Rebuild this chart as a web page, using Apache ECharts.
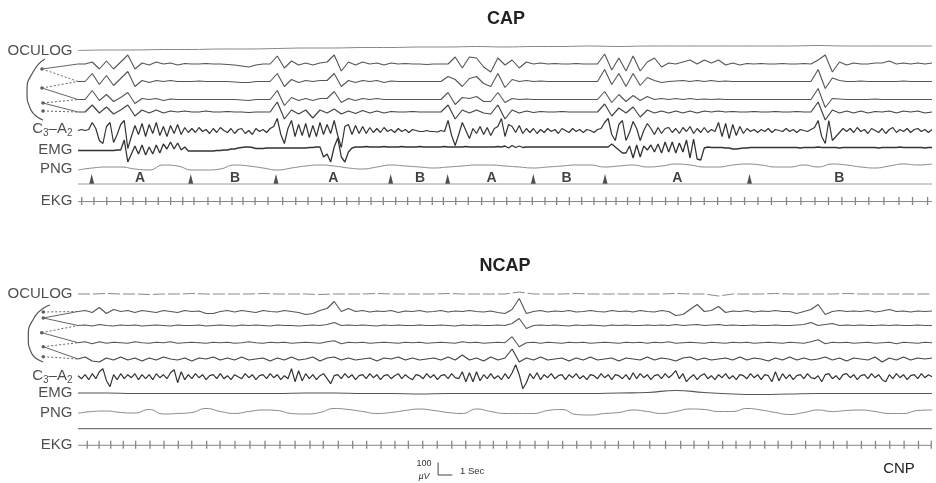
<!DOCTYPE html>
<html>
<head>
<meta charset="utf-8">
<title>CAP / NCAP</title>
<script src="https://cdn.jsdelivr.net/npm/echarts@6/dist/echarts.min.js"></script>
<style>
  html, body { margin: 0; padding: 0; background: #fff; }
  #chart { width: 936px; height: 483px; }
</style>
</head>
<body>
<div id="chart"></div>
<script>
// Time in seconds (60 s epoch), deflections in microvolts (positive = up)

// ---- CAP panel ----
const capOculog = [ // every 2 s
  -20,-16,-16,-12,-12,-8,-8,-4,0,0,4,4,8,8,12,8,12,12,16,12,16,16,16,16,16,16,20,16,16,16,16];
const capCh1 = [ // every 0.5 s
  0,0,16,-40,24,-40,16,72,-40,8,
  -8,16,0,8,-8,4,0,0,4,0,
  0,-4,-8,-16,-24,-8,0,0,64,-32,
  24,-8,8,-8,8,16,72,-56,16,-8,
  16,0,8,-8,8,0,4,0,0,-4,
  0,0,0,56,-32,56,48,-24,-64,48,
  -8,32,-32,16,0,8,0,4,0,0,
  4,0,0,0,80,-48,48,-56,64,-56,
  16,48,-24,8,0,16,32,0,32,8,
  32,-8,8,-8,4,0,4,0,0,4,
  0,0,4,0,32,72,-64,16,-8,8,
  0,0,8,8,24,0,8,0,8,0,
  8];
const capCh2 = [
  0,0,64,-24,48,-32,24,80,-40,8,
  -8,8,0,8,0,0,0,4,0,0,
  0,0,-4,-8,-8,0,0,0,64,-40,
  16,-8,8,0,8,8,64,-40,8,-8,
  8,0,8,-8,4,0,0,0,0,0,
  0,0,40,16,-40,24,40,-16,-40,64,
  -48,16,0,8,0,4,0,0,0,0,
  0,0,0,0,96,-24,64,-40,64,-32,
  32,8,-8,0,4,8,0,8,0,8,
  0,4,0,0,0,0,0,0,0,0,
  0,0,0,0,96,-56,28,8,0,0,
  4,0,0,0,0,0,4,0,0,0,
  0];
const capCh3 = [
  0,0,72,-8,40,-16,16,56,-32,8,
  0,8,-8,4,0,0,0,0,0,0,
  0,0,0,-4,-8,0,0,0,72,-48,
  16,-8,8,-8,8,8,64,-24,8,-8,
  8,0,8,0,0,0,0,0,0,0,
  0,0,56,-40,16,8,24,-16,-16,56,
  -24,8,0,4,0,0,0,0,0,0,
  0,0,0,0,64,-24,40,-16,32,-8,
  24,0,8,0,8,0,8,0,4,0,
  4,0,0,0,0,0,0,0,0,0,
  0,0,0,0,88,-64,8,4,0,0,
  0,0,4,0,0,0,0,0,0,0,
  0];
const capCh4 = [
  0,0,56,-8,40,-16,16,56,-32,16,
  -8,16,-8,8,0,8,0,0,8,0,
  0,4,0,0,-4,0,0,0,80,-56,
  16,-16,16,-48,16,-8,24,-16,8,-12,
  12,-8,8,-8,4,0,0,4,0,0,
  0,0,56,-56,16,-8,16,-8,-16,56,
  -56,16,-8,8,-4,4,0,0,4,0,
  0,0,0,0,64,-32,32,-8,40,-40,
  16,-8,8,-8,8,-8,8,-8,8,0,
  8,0,4,0,0,4,0,0,4,0,
  0,4,0,0,80,-64,16,-8,8,-8,
  8,-8,4,0,8,-8,8,0,8,-8,
  0];
const capC3A2 = [ // every 0.25 s
  0,8,0,8,64,16,-80,-104,32,64,-96,-32,48,80,-144,-48,40,-32,56,-48,
  48,-24,64,-40,32,-48,40,-24,48,-32,24,-16,16,-16,24,-8,8,-24,16,-16,
  24,0,-16,16,-24,8,16,-24,0,-32,16,-8,8,-16,16,32,96,-32,-104,16,
  80,-48,48,-40,56,-56,40,-48,64,-32,48,-24,80,-40,-136,32,48,-32,40,-24,
  32,-24,24,-16,16,-16,24,-8,8,-16,16,-8,8,-16,8,0,-8,-8,0,-8,
  -8,-12,0,-8,80,-40,-120,-32,64,0,-64,16,-24,32,-32,24,-40,16,32,96,
  -48,48,32,-16,40,-24,16,-16,16,-24,8,-16,16,-8,8,-24,16,0,-16,16,
  -8,8,-16,8,0,-16,8,16,64,96,-32,-80,48,80,-80,-16,72,16,-80,0,
  56,16,-32,24,-24,16,24,-16,16,-24,24,-8,32,-24,16,-16,24,-16,8,-8,
  64,-48,56,-64,48,-40,32,-24,16,-8,8,-16,8,-8,16,-16,8,0,-8,16,
  -8,8,-16,8,0,-8,8,24,80,-48,-104,80,-80,-48,-16,16,-8,16,-16,24,
  -8,8,-24,16,0,-16,16,-24,8,24,-16,8,-8,16,-16,8,16,-8,8,-16,
  8];
const capEmg = [ // every 0.25 s
  -20,-20,-20,-20,-20,-20,-20,-20,-20,-20,-20,-16,-16,64,-112,-48,16,-48,24,-56,
  8,-48,24,-40,32,-8,48,-8,40,-16,8,-24,-24,-24,-24,-24,-24,-24,-24,-20,
  -20,-16,-16,-8,-8,0,4,8,8,4,-4,-4,-4,0,0,0,0,0,0,0,
  0,0,0,0,0,4,4,8,8,-72,-48,-112,8,80,-72,-112,-32,0,8,8,
  8,12,8,8,8,8,12,8,8,8,8,12,8,8,8,8,12,8,8,8,
  8,8,8,12,8,8,8,8,8,12,8,8,8,8,8,8,8,8,12,8,
  16,0,20,4,16,4,8,8,8,8,8,8,8,8,8,8,8,8,8,8,
  8,8,8,8,8,8,8,8,8,8,32,8,-16,-40,-40,16,-80,24,-72,16,
  -16,24,-32,32,-40,48,-32,48,-40,40,-32,64,-80,72,-88,-96,0,8,4,4,
  4,4,0,0,-8,-8,-4,0,0,4,4,4,4,4,4,4,4,4,4,4,
  4,4,4,0,4,4,4,4,8,4,4,4,4,4,0,4,4,4,4,4,
  4,4,4,4,4,0,4,4,4,4,4,8,4,4,4,4,4,4,0,4,
  4];
const capPng = [ // every 1 s
  -24,-8,0,0,-16,-24,16,8,-24,-24,-16,16,8,-8,-24,-8,8,16,8,-8,
  -16,0,16,8,0,-8,0,8,16,16,8,0,-8,0,8,16,16,0,8,16,
  0,8,24,16,0,0,16,24,16,0,0,16,0,24,16,0,-8,8,24,16,
  24];
const capBeats = [
  0.26,1.12,2.02,3.00,3.86,4.76,5.64,6.51,7.36,8.15,9.13,9.98,10.82,11.59,12.44,13.35,
  14.38,15.30,16.16,17.12,18.01,18.88,19.74,20.59,21.45,22.32,23.16,24.03,24.89,25.67,
  26.54,27.42,28.36,29.23,30.12,31.05,31.92,32.81,33.63,34.52,35.39,36.25,37.10,37.80,
  38.61,39.46,40.34,41.28,42.16,43.05,44.00,44.94,45.88,46.83,47.77,48.72,49.78,50.79,
  51.78,52.73,53.67,54.62,55.56,56.62,57.68,58.63,59.69];
const capMarkerSec = [0.96, 7.92, 13.91, 21.97, 25.97, 31.99, 37.03, 47.18];
const capPhaseSec = [4.36, 11.03, 17.94, 24.03, 29.06, 34.33, 42.11, 53.48];
const capPhaseNames = ['A', 'B', 'A', 'B', 'A', 'B', 'A', 'B'];

// ---- NCAP panel ----
const ncapOculog = [ // every 1 s
  0,0,4,0,0,-4,0,0,4,0, 0,0,0,4,0,0,0,-4,0,0,
  0,4,0,0,0,0,4,0,0,0, 0,16,0,0,0,4,0,0,0,0,
  0,0,4,0,0,-16,0,0,0,4, 0,0,0,0,4,0,0,0,0,0,
  0];
const ncapCh1 = [ // every 0.5 s
  0,8,-8,32,-16,16,0,8,-8,8,
  0,-8,8,0,-8,8,0,4,-16,-16,
  0,8,-4,8,0,-8,8,0,-4,8,
  0,-8,-24,-16,8,24,80,0,24,0,
  8,-4,4,0,8,-8,4,0,8,-4,
  0,8,-4,4,0,8,0,-4,4,-8,
  -16,16,104,-16,0,8,-4,4,0,8,
  -4,0,8,0,-4,8,0,4,-4,8,
  0,-4,8,0,-32,-24,16,56,0,8,
  40,-8,4,0,8,-4,4,0,8,0,
  0,-16,0,16,56,-24,0,8,0,4,
  0,8,-4,4,16,0,4,-4,4,0,
  4];
const ncapCh2 = [
  0,4,-4,8,0,-4,4,0,4,-4,
  0,4,0,-4,4,0,0,4,-4,0,
  4,0,-4,4,0,4,0,-4,4,0,
  0,-4,0,4,0,8,24,0,4,0,
  4,0,-4,4,0,4,0,0,4,0,
  0,4,0,-4,4,0,4,0,0,4,
  0,16,56,-24,0,4,0,4,0,-4,
  4,0,4,0,-4,4,0,4,0,0,
  4,0,4,0,8,0,4,8,0,4,
  8,0,4,0,0,4,0,0,4,0,
  0,4,8,24,0,8,16,0,4,0,
  4,0,0,4,0,4,0,0,4,0,
  0];
const ncapCh3 = [
  0,8,-8,8,-4,4,0,-4,8,0,
  -4,4,0,8,-4,0,4,0,-4,4,
  0,4,-4,0,8,0,-4,4,0,4,
  -4,0,4,0,-4,8,16,-8,4,0,
  4,-4,0,4,0,-4,4,0,4,-4,
  0,4,0,-4,8,0,4,-4,0,4,
  0,48,-32,0,4,-4,4,0,-4,4,
  0,4,-4,0,4,0,-4,4,0,4,
  -4,4,0,8,-4,0,4,0,-4,4,
  0,-4,4,0,4,-4,0,4,0,-4,
  4,0,-4,8,24,-8,4,0,4,-4,
  0,4,-4,0,4,-8,4,0,-4,4,
  0];
const ncapCh4 = [
  0,16,-16,-24,8,-8,16,-8,8,-16,
  8,-8,16,0,-8,8,-16,8,0,16,
  -8,8,-8,16,-8,0,8,-16,8,-8,
  16,-8,0,16,-16,8,16,-8,8,-8,
  0,8,-16,8,0,16,-8,8,-8,0,
  8,-8,16,-8,32,-8,8,-16,16,-8,
  8,80,-24,8,-8,16,-8,0,8,-16,
  8,-8,16,-8,0,8,-16,8,0,-8,
  16,-8,8,0,-16,8,16,-8,8,-8,
  0,8,-8,16,-8,8,0,-16,8,-8,
  16,-8,8,-8,0,16,-8,8,-16,8,
  0,-8,16,-24,8,-8,16,-8,8,0,
  8];
const ncapC3A2 = [ // every 0.25 s
  8,-16,16,-24,24,-16,40,64,-32,-80,16,-24,24,-16,16,-8,24,-24,16,-16,
  16,-24,24,-8,16,-16,32,56,-48,40,-24,16,-16,24,-8,16,-24,8,16,-16,
  24,-16,8,-24,16,0,-16,24,-8,16,-24,8,16,-16,24,-8,16,-24,8,-16,
  64,-40,48,-32,24,-16,16,-24,8,24,-16,-56,8,16,-16,24,-8,16,-24,8,
  16,-16,24,-8,16,-24,8,16,-16,8,24,-16,16,-8,-24,16,8,-16,24,-8,
  16,-24,8,16,-16,24,-8,-16,40,-40,32,-40,40,-32,16,-16,24,-16,8,-24,
  24,-16,32,96,16,-96,-48,24,-16,32,-24,16,-8,24,-16,8,16,-24,16,-8,
  24,-16,8,-24,16,8,-16,24,-8,16,-24,16,8,-16,16,-24,32,-16,24,-8,
  16,-24,8,16,-16,24,-8,16,48,-16,24,-40,-8,16,-24,8,24,-16,8,-24,
  16,-8,24,-16,8,-24,16,8,-16,24,-8,16,-24,16,8,-40,40,-32,24,-16,
  16,-24,8,16,-16,24,-8,-16,8,-40,16,24,-16,8,-24,16,24,-8,16,-24,
  8,16,-16,24,-8,16,-24,-40,16,-16,24,-8,16,-24,8,16,-16,24,-8,16,
  0];
const ncapEmg = [ // every 2 s
  4,4,0,0,0,0,0,0,4,4,0,0,-4,0,0,0,0,0,0,4,8,24,8,-4,-8,-4,0,0,0,0,0];
const ncapPng = [ // every 1 s
  -14,0,4,-8,-12,16,-20,-16,-8,24,0,-16,0,12,8,-16,-20,-8,24,16,
  0,-16,-8,8,20,8,-8,-16,20,0,-16,-16,-16,8,16,-24,-28,-16,-8,12,
  0,-16,0,20,16,0,0,24,12,-8,-24,-8,12,0,8,12,0,-16,-16,8,
  12];
const ncapFlat = [0, 0, 0, 0, 0, 0, 0]; // every 10 s
const ncapBeats = [
  0.65,1.48,2.30,3.18,4.05,5.06,6.04,7.05,7.99,9.04,9.98,11.03,12.08,13.14,14.19,15.25,
  16.30,17.23,18.29,19.30,20.28,21.29,22.27,23.21,24.22,25.24,26.26,27.24,28.24,29.18,
  30.12,31.05,32.11,33.04,34.05,35.04,36.04,37.03,37.97,39.04,40.17,41.28,42.34,43.28,
  44.30,45.29,46.23,47.23,48.25,49.19,50.13,51.12,52.14,53.08,54.03,55.04,56.03,57.03,
  58.04,59.05,59.95];

// head schematic (electrode positions left of the traces, seconds before trace start)
const capHeadArc = [[-2.32, 19], [-3.16, 32], [-3.58, 52], [-3.37, 68], [-2.46, 80]];
const capElectrodes = [[-2.53, 29], [-2.53, 48], [-2.46, 63], [-2.46, 71]];
const capLinks = [[0, 't2', 0], [0, 't3', 1], [1, 't3', 1], [1, 't4', 0], [2, 't4', 1], [2, 't5', 0], [3, 't5', 1]];
const ncapHeadArc = [[-1.97, 20], [-3.09, 33], [-3.49, 53], [-3.3, 67], [-2.44, 77]];
const ncapElectrodes = [[-2.44, 27], [-2.44, 33], [-2.55, 47.7], [-2.44, 61.7], [-2.44, 71.7]];
const ncapLinks = [[0, 't2', 1], [1, 't2', 0], [1, 't3', 0], [2, 't3', 1], [2, 't4', 0], [3, 't4', 1], [3, 't5', 0], [4, 't5', 1]];

const channelNames = ['OCULOG', 'C3-A2', 'EMG', 'PNG', 'EKG'];
const scaleUv = 100;
const scaleSec = 1;
const scaleStartSec = 25.3;

// ---- layout ----
const FONT = '"Liberation Sans", Arial, sans-serif';
const UV_PX = 12.5 / 100;
const X_MIN = -4, X_MAX = 60;
const CAP_ROWS = { ocu: 8, t2: 24, t3: 41.5, t4: 59.5, t5: 72, c3: 90.5, emg: 108, png: 127, mark: 144, ekg: 161.5 };
const CAP_LABEL_Y = [10.5, 89, 110, 129, 160.7];
const NCAP_ROWS = { ocu: 9, t2: 26.5, t3: 40.5, t4: 57.7, t5: 74, c3: 91.7, emg: 108.5, png: 126.5, flat: 143.7, ekg: 160.3 };
const NCAP_LABEL_Y = [9, 91, 108.3, 128.3, 160];
const SCALE_BASE = 190;

function wave(vals, dt, base) {
  return vals.map((v, i) => [i * dt, base - v * UV_PX]);
}

function line(gi, data, color, width, extra) {
  return Object.assign({
    type: 'line', xAxisIndex: gi, yAxisIndex: gi, data: data,
    symbol: 'none', silent: true, clip: false,
    lineStyle: { color: color, width: width }
  }, extra || {});
}

function channelLabels(gi, ys) {
  return {
    type: 'scatter', xAxisIndex: gi, yAxisIndex: gi, silent: true, clip: false,
    symbolSize: 1, itemStyle: { color: 'rgba(0,0,0,0)' },
    data: channelNames.map((n, i) => ({ name: n, value: [0, ys[i]] })),
    label: {
      show: true, position: 'left', distance: 5,
      color: '#222', fontSize: 15, fontFamily: FONT,
      formatter: p => p.name === 'C3-A2' ? '{n|C}{s|3}{n|–A}{s|2}' : p.name,
      rich: {
        n: { fontSize: 15, fontFamily: FONT, color: '#222' },
        s: { fontSize: 10, fontFamily: FONT, color: '#222', padding: [9, 0, 0, 0] }
      }
    }
  };
}

function head(gi, arc, electrodes, links, rows) {
  const out = [line(gi, arc, '#555', 1.2, { smooth: 0.6 })];
  links.forEach(l => {
    const e = electrodes[l[0]];
    out.push(line(gi, [e, [0, rows[l[1]]]], '#666', 1, {
      lineStyle: { color: '#666', width: 1, type: l[2] ? [2, 2] : 'solid' }
    }));
  });
  out.push({
    type: 'scatter', xAxisIndex: gi, yAxisIndex: gi, silent: true, clip: false,
    symbol: 'circle', symbolSize: 3.5, itemStyle: { color: '#333' }, data: electrodes
  });
  return out;
}

function ekg(gi, beats, base) {
  return [
    line(gi, [[0, base], [60, base]], '#888', 1),
    {
      type: 'scatter', xAxisIndex: gi, yAxisIndex: gi, silent: true, clip: false,
      symbol: 'rect', symbolSize: [1.3, 8], itemStyle: { color: '#666' },
      data: beats.map(t => [t, base - 0.5])
    }
  ];
}

const R = CAP_ROWS, N = NCAP_ROWS;
const series = [].concat(
  // CAP
  [line(0, wave(capOculog, 2, R.ocu), '#888', 1, { smooth: 0.4 })],
  [line(0, wave(capCh1, 0.5, R.t2), '#555', 1.1)],
  [line(0, wave(capCh2, 0.5, R.t3), '#555', 1.1)],
  [line(0, wave(capCh3, 0.5, R.t4), '#555', 1.1)],
  [line(0, wave(capCh4, 0.5, R.t5), '#444', 1.2)],
  [line(0, wave(capC3A2, 0.25, R.c3), '#333', 1.2)],
  [line(0, wave(capEmg, 0.25, R.emg), '#333', 1.3)],
  [line(0, wave(capPng, 1, R.png), '#888', 1, { smooth: 0.5 })],
  [line(0, [[0, R.mark], [60, R.mark]], '#999', 1)],
  [{
    type: 'scatter', xAxisIndex: 0, yAxisIndex: 0, silent: true, clip: false,
    symbol: 'triangle', symbolSize: [5, 10], symbolOffset: [0, -5], itemStyle: { color: '#222' },
    data: capMarkerSec.map(t => [t, R.mark])
  }, {
    type: 'scatter', xAxisIndex: 0, yAxisIndex: 0, silent: true, clip: false,
    symbolSize: 1, itemStyle: { color: 'rgba(0,0,0,0)' },
    data: capPhaseSec.map((t, i) => ({ name: capPhaseNames[i], value: [t, R.mark - 6] })),
    label: { show: true, position: 'inside', formatter: '{b}', color: '#111', fontSize: 14, fontWeight: 'bold', fontFamily: FONT }
  }],
  ekg(0, capBeats, R.ekg),
  head(0, capHeadArc, capElectrodes, capLinks, R),
  [channelLabels(0, CAP_LABEL_Y)],
  // NCAP
  [line(1, wave(ncapOculog, 1, N.ocu), '#888', 1, { lineStyle: { color: '#888', width: 1, type: [12, 3] } })],
  [line(1, wave(ncapCh1, 0.5, N.t2), '#555', 1.1)],
  [line(1, wave(ncapCh2, 0.5, N.t3), '#555', 1.1)],
  [line(1, wave(ncapCh3, 0.5, N.t4), '#555', 1.1)],
  [line(1, wave(ncapCh4, 0.5, N.t5), '#444', 1.2)],
  [line(1, wave(ncapC3A2, 0.25, N.c3), '#333', 1.2)],
  [line(1, wave(ncapEmg, 2, N.emg), '#555', 1.2, { smooth: 0.5 })],
  [line(1, wave(ncapPng, 1, N.png), '#888', 1, { smooth: 0.5 })],
  [line(1, wave(ncapFlat, 10, N.flat), '#777', 1.2)],
  ekg(1, ncapBeats, N.ekg),
  head(1, ncapHeadArc, ncapElectrodes, ncapLinks, N),
  [channelLabels(1, NCAP_LABEL_Y)],
  // calibration bar: 100 uV by 1 s
  [line(1, [[scaleStartSec, SCALE_BASE - scaleUv * UV_PX], [scaleStartSec, SCALE_BASE], [scaleStartSec + scaleSec, SCALE_BASE]], '#444', 1)]
);

// traces start at x = 78 px; the axis reaches 4 s further left for the head schematic
const PX_PER_SEC = 854 / 60;
const GRID_LEFT = 78 + X_MIN * PX_PER_SEC;

const chart = echarts.init(document.getElementById('chart'));
chart.setOption({
  animation: false,
  backgroundColor: '#fff',
  grid: [
    { left: GRID_LEFT, right: 4, top: 40, height: 175 },
    { left: GRID_LEFT, right: 4, top: 285, height: 198 }
  ],
  xAxis: [
    { gridIndex: 0, type: 'value', min: X_MIN, max: X_MAX, show: false },
    { gridIndex: 1, type: 'value', min: X_MIN, max: X_MAX, show: false }
  ],
  yAxis: [
    { gridIndex: 0, type: 'value', min: 0, max: 175, inverse: true, show: false },
    { gridIndex: 1, type: 'value', min: 0, max: 198, inverse: true, show: false }
  ],
  graphic: [
    { type: 'text', style: { text: 'CAP', x: 506, y: 19, align: 'center', verticalAlign: 'middle', fill: '#222', font: 'bold 18px ' + FONT } },
    { type: 'text', style: { text: 'NCAP', x: 505, y: 266, align: 'center', verticalAlign: 'middle', fill: '#222', font: 'bold 18px ' + FONT } },
    { type: 'text', style: { text: '100', x: 424, y: 464, align: 'center', verticalAlign: 'middle', fill: '#333', font: '9px ' + FONT } },
    { type: 'text', style: { text: 'µV', x: 424, y: 476, align: 'center', verticalAlign: 'middle', fill: '#333', font: 'italic 9px ' + FONT } },
    { type: 'text', style: { text: '1 Sec', x: 460, y: 471, align: 'left', verticalAlign: 'middle', fill: '#333', font: '9.5px ' + FONT } },
    { type: 'text', style: { text: 'CNP', x: 899, y: 469, align: 'center', verticalAlign: 'middle', fill: '#222', font: '15px ' + FONT } }
  ],
  series: series
});
</script>
</body>
</html>
